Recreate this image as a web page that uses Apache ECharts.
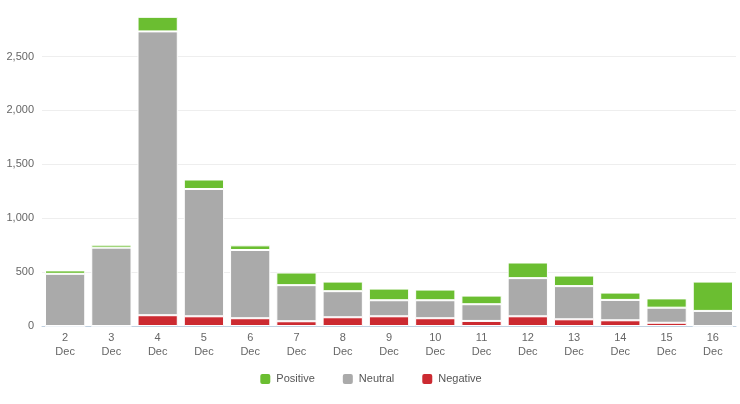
<!DOCTYPE html>
<html>
<head>
<meta charset="utf-8">
<script src="https://cdn.jsdelivr.net/npm/echarts@6/dist/echarts.min.js"></script>
<style>
  html, body { margin: 0; padding: 0; background: #fff; }
  #chart { width: 740px; height: 404px; }
</style>
</head>
<body>
<div id="chart"></div>
<script>
const days = ['2', '3', '4', '5', '6', '7', '8', '9', '10', '11', '12', '13', '14', '15', '16'];
const positive = [32, 27, 135, 88, 43, 117, 89, 108, 99, 80, 145, 98, 68, 86, 272];
const neutral = [484, 727, 2633, 1181, 633, 335, 242, 149, 167, 155, 354, 308, 189, 140, 140];
const negative = [0, 0, 100, 90, 72, 44, 81, 90, 72, 47, 90, 62, 53, 30, 0];

const chart = echarts.init(document.getElementById('chart'));

const labelFont = {
  color: '#666',
  fontSize: 11,
  fontFamily: 'Liberation Sans, Arial, sans-serif'
};

function barSeries(name, data, color) {
  return {
    name: name,
    type: 'bar',
    stack: 'total',
    data: data,
    barCategoryGap: '13%',
    itemStyle: { color: color, borderColor: '#fff', borderWidth: 1 },
    emphasis: { disabled: true }
  };
}

const options = {
  animation: false,
  grid: { left: 42, right: 4, top: 8, bottom: 78 },
  legend: {
    bottom: 13,
    left: 'center',
    icon: 'roundRect',
    itemWidth: 12,
    itemHeight: 12,
    itemGap: 26,
    textStyle: { color: '#555', fontSize: 11, fontFamily: 'Liberation Sans, Arial, sans-serif' },
    data: ['Positive', 'Neutral', 'Negative']
  },
  xAxis: {
    type: 'category',
    data: days,
    axisLine: { lineStyle: { color: '#C0D0E0' } },
    axisTick: { length: 5, lineStyle: { color: '#C0D0E0' } },
    axisLabel: Object.assign({
      margin: 5,
      lineHeight: 14,
      formatter: (d) => d + '\nDec'
    }, labelFont)
  },
  yAxis: {
    type: 'value',
    min: 0,
    max: 2950,
    interval: 500,
    axisLine: { show: false },
    axisTick: { show: false },
    splitLine: {
      lineStyle: {
        color: ['#eeeeee', '#eeeeee', '#eeeeee', '#eeeeee', '#eeeeee', '#eeeeee', 'rgba(0,0,0,0)']
      }
    },
    axisLabel: Object.assign({
      margin: 8,
      showMaxLabel: false,
      formatter: (v) => v.toLocaleString('en-US')
    }, labelFont)
  },
  series: [
    barSeries('Negative', negative, '#CC2A31'),
    barSeries('Neutral', neutral, '#AAAAAA'),
    barSeries('Positive', positive, '#6BBE31')
  ]
};

chart.setOption(options);
</script>
</body>
</html>
